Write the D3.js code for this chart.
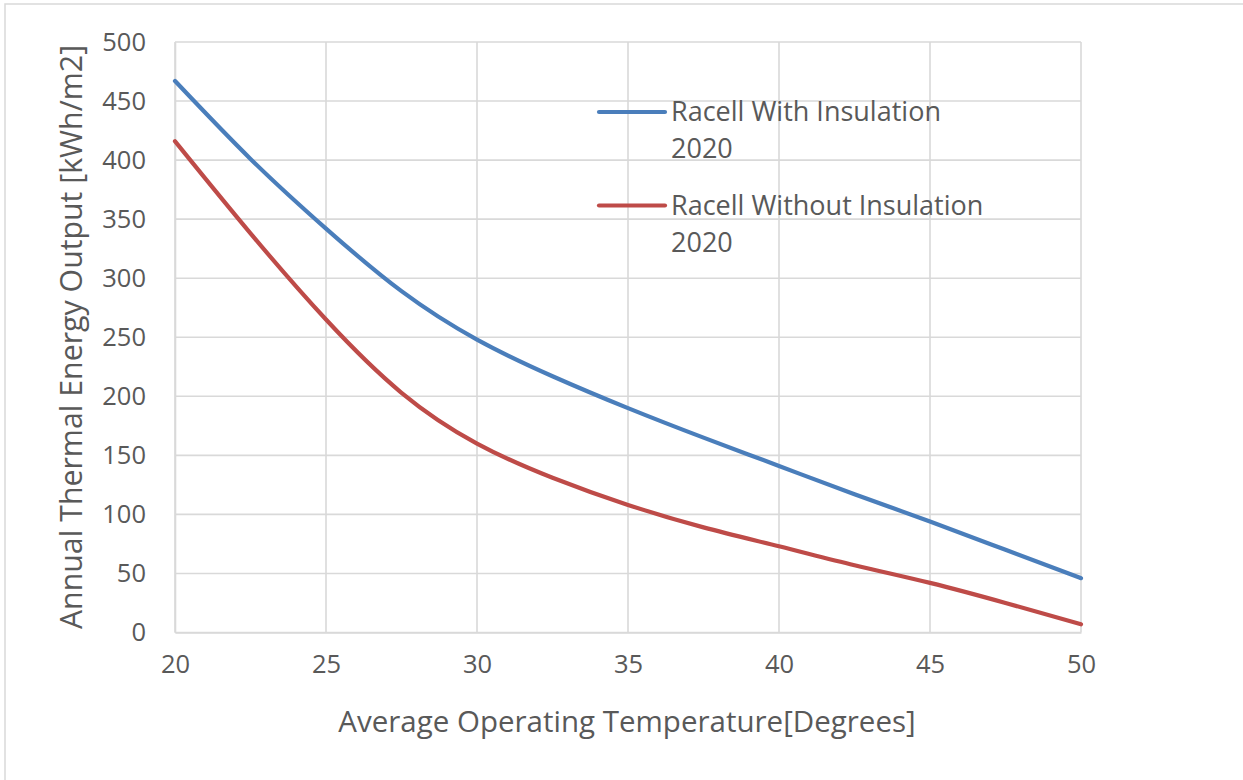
<!DOCTYPE html>
<html>
<head>
<meta charset="utf-8">
<script src="https://cdn.jsdelivr.net/npm/d3@7"></script>
<style>
  html, body { margin: 0; padding: 0; background: #ffffff; }
  svg { display: block; }
  text { font-family: "Open Sans", "Noto Sans", sans-serif; fill: #595959; }
</style>
</head>
<body>
<svg id="chart" width="1243" height="780"></svg>
<script>
// Average operating temperature (degrees)
const temperatures = [20, 22.5, 25, 27.5, 30, 32.5, 35, 37.5, 40, 42.5, 45, 47.5, 50];
// Annual thermal energy output (kWh/m2)
const withInsulation    = [467, 401, 342, 289, 248, 217, 190, 165, 141, 117, 94, 70, 46];
const withoutInsulation = [416, 338, 265, 203, 160, 131, 108, 89, 73, 57, 42, 25, 7];

const seriesNames = ["Racell With Insulation 2020", "Racell Without Insulation 2020"];
const seriesColors = ["#4a7ebb", "#be4b48"];
const xTicks = [20, 25, 30, 35, 40, 45, 50];
const yTicks = [0, 50, 100, 150, 200, 250, 300, 350, 400, 450, 500];

const xTitle = "Average Operating Temperature[Degrees]";
const yTitle = "Annual Thermal Energy Output [kWh/m2]";

const svg = d3.select("#chart");
const W = 1243, H = 780;
const plot = { left: 175, right: 1081, top: 42, bottom: 632.5 };

// chart area outline
svg.append("rect")
  .attr("x", 5).attr("y", 4)
  .attr("width", W + 10).attr("height", H + 10)
  .attr("fill", "#ffffff")
  .attr("stroke", "#d9d9d9").attr("stroke-width", 1.5);

const x = d3.scaleLinear().domain([20, 50]).range([plot.left, plot.right]);
const y = d3.scaleLinear().domain([0, 500]).range([plot.bottom, plot.top]);

// gridlines
const grid = svg.append("g");
grid.selectAll("line.h").data(yTicks).join("line")
  .attr("x1", plot.left).attr("x2", plot.right)
  .attr("y1", d => y(d)).attr("y2", d => y(d))
  .attr("stroke", "#d9d9d9").attr("stroke-width", 1.6);
grid.selectAll("line.v").data(xTicks).join("line")
  .attr("x1", d => x(d)).attr("x2", d => x(d))
  .attr("y1", plot.top).attr("y2", plot.bottom)
  .attr("stroke", "#d9d9d9").attr("stroke-width", 1.6);

// axes
const yAxis = svg.append("g")
  .attr("transform", `translate(${plot.left},0)`)
  .call(d3.axisLeft(y).tickValues(yTicks).tickSize(0).tickPadding(29));
yAxis.select(".domain").attr("stroke", "#d9d9d9").attr("stroke-width", 1.6);
yAxis.selectAll("text").attr("font-size", 25.5).attr("fill", "#595959")
  .style("font-family", '"Open Sans", sans-serif');

const xAxis = svg.append("g")
  .attr("transform", `translate(0,${plot.bottom})`)
  .call(d3.axisBottom(x).tickValues(xTicks).tickSize(0).tickPadding(22));
xAxis.select(".domain").attr("stroke", "#d9d9d9").attr("stroke-width", 1.6);
xAxis.selectAll("text").attr("font-size", 25.5).attr("fill", "#595959")
  .style("font-family", '"Open Sans", sans-serif');

// axis titles
svg.append("text")
  .attr("x", 627).attr("y", 732)
  .attr("text-anchor", "middle")
  .attr("font-size", 29.5)
  .text(xTitle);

svg.append("text")
  .attr("transform", `translate(82,337) rotate(-90)`)
  .attr("text-anchor", "middle")
  .attr("font-size", 30.3)
  .text(yTitle);

// series lines
const line = d3.line()
  .x(d => x(d[0]))
  .y(d => y(d[1]))
  .curve(d3.curveNatural);

const series = [withInsulation, withoutInsulation];
series.forEach((vals, i) => {
  svg.append("path")
    .datum(temperatures.map((t, j) => [t, vals[j]]))
    .attr("fill", "none")
    .attr("stroke", seriesColors[i])
    .attr("stroke-width", 4.2)
    .attr("stroke-linecap", "round")
    .attr("stroke-linejoin", "round")
    .attr("d", line);
});

// legend
const legend = svg.append("g");
const legendRows = [[seriesNames[0].replace(" 2020", ""), "2020"], [seriesNames[1].replace(" 2020", ""), "2020"]];
legendRows.forEach((rows, i) => {
  const ly = 112 + i * 93.5;
  legend.append("line")
    .attr("x1", 599).attr("x2", 665)
    .attr("y1", ly).attr("y2", ly)
    .attr("stroke", seriesColors[i]).attr("stroke-width", 4.2)
    .attr("stroke-linecap", "round");
  rows.forEach((r, k) => {
    legend.append("text")
      .attr("x", 671).attr("y", ly + 9 + k * 37)
      .attr("font-size", 27)
      .text(r);
  });
});
</script>
</body>
</html>
